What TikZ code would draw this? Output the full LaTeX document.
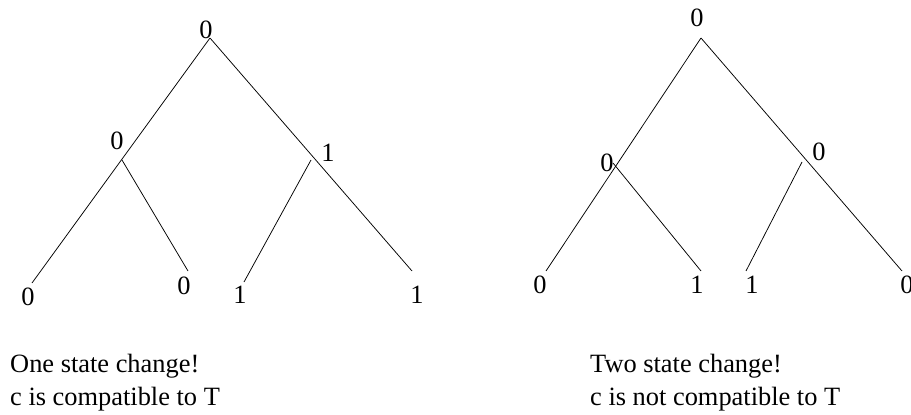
\documentclass[tikz,border=0pt]{standalone}
\usepackage{fontspec}
\setmainfont{Liberation Serif}
\begin{document}
\begin{tikzpicture}[x=1pt,y=-1pt,
  lbl/.style={inner sep=0pt,font=\fontsize{26.4}{32}\selectfont},
  txt/.style={inner sep=0pt,anchor=base west,font=\fontsize{26.4}{32}\selectfont},
  edge/.style={line width=0.75pt,black}]
\useasboundingbox (0,0) rectangle (911,415);
% ---------- left tree ----------
\node[lbl] (Lr) at (206,30) {0};
\node[lbl] (La) at (117,141) {0};
\node[lbl] (Lb) at (328,153) {1};
\node[lbl] (L1) at (28,297) {0};
\node[lbl] (L2) at (184,286) {0};
\node[lbl] (L3) at (240,295) {1};
\node[lbl] (L4) at (417,295) {1};
\coordinate (cLr) at (210,38);
\coordinate (cLa) at (122,160);
\coordinate (cLb) at (311,160);
\coordinate (cL1) at (32,283);
\coordinate (cL2) at (188,271);
\coordinate (cL3) at (244,282);
\coordinate (cL4) at (412,271);
\draw[edge] (cLr) -- (cL1);
\draw[edge] (cLa) -- (cL2);
\draw[edge] (cLr) -- (cL4);
\draw[edge] (cLb) -- (cL3);
% ---------- right tree ----------
\node[lbl] (Rr) at (697,18) {0};
\node[lbl] (Ra) at (607,163) {0};
\node[lbl] (Rb) at (819,152) {0};
\node[lbl] (R1) at (540,285) {0};
\node[lbl] (R2) at (697,285) {1};
\node[lbl] (R3) at (752,285) {1};
\node[lbl] (R4) at (907,285) {0};
\coordinate (cRr) at (701,38);
\coordinate (cRa) at (613,163);
\coordinate (cRb) at (802,162);
\coordinate (cR1) at (546,271);
\coordinate (cR2) at (701,271);
\coordinate (cR3) at (746,271);
\coordinate (cR4) at (902,271);
\draw[edge] (cRr) -- (cR1);
\draw[edge] (cRa) -- (cR2);
\draw[edge] (cRr) -- (cR4);
\draw[edge] (cRb) -- (cR3);
% ---------- captions ----------
\node[txt] (t1) at (10,372) {One state change!};
\node[txt] (t2) at (10,405) {c is compatible to T};
\node[txt] (t3) at (590,372) {Two state change!};
\node[txt] (t4) at (590,405) {c is not compatible to T};
\end{tikzpicture}
\end{document}
